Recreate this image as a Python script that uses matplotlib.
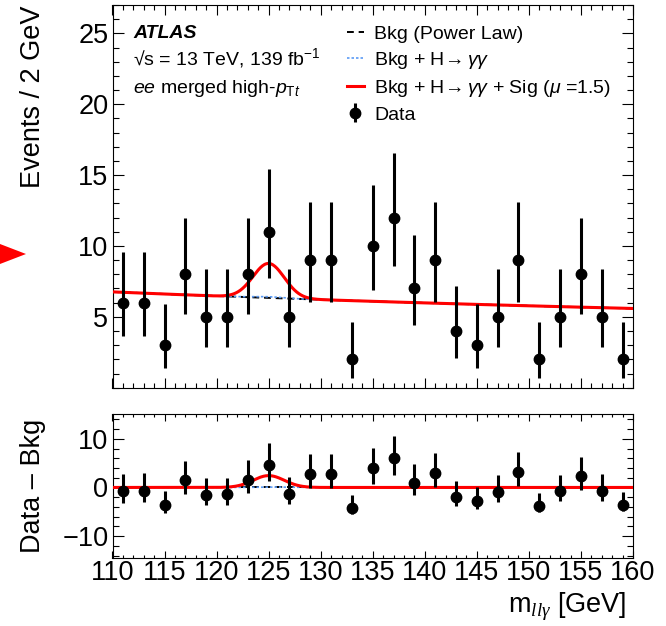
import numpy as np
import matplotlib
matplotlib.use("Agg")
import matplotlib.pyplot as plt
from matplotlib.ticker import MultipleLocator
from matplotlib.patches import Polygon

plt.rcParams['font.family'] = ['Liberation Sans', 'DejaVu Sans']
plt.rcParams['mathtext.fontset'] = 'custom'
plt.rcParams['mathtext.rm'] = 'Liberation Sans'
plt.rcParams['mathtext.it'] = 'Liberation Sans:italic'
plt.rcParams['mathtext.bf'] = 'Liberation Sans:bold'
plt.rcParams['mathtext.cal'] = 'Liberation Serif:italic'

# ---------------- data ----------------
bin_centers = [111, 113, 115, 117, 119, 121, 123, 125, 127, 129, 131, 133, 135,
               137, 139, 141, 143, 145, 147, 149, 151, 153, 155, 157, 159]
counts = [6, 6, 3, 8, 5, 5, 8, 11, 5, 9, 9, 2, 10,
          12, 7, 9, 4, 3, 5, 9, 2, 5, 8, 5, 2]
# poisson errors
err_lo = [2.38, 2.38, 1.63, 2.77, 2.16, 2.16, 2.77, 3.27, 2.16, 2.94, 2.94, 1.29, 3.11,
          3.42, 2.58, 2.94, 1.91, 1.63, 2.16, 2.94, 1.29, 2.16, 2.77, 2.16, 1.29]
err_hi = [3.58, 3.58, 2.92, 3.95, 3.38, 3.38, 3.95, 4.42, 3.38, 4.11, 4.11, 2.64, 4.27,
          4.57, 3.77, 4.11, 3.16, 2.92, 3.38, 4.11, 2.64, 3.38, 3.95, 3.38, 2.64]

# fitted model parameters
bkg_norm = 6.76      # value at 110 GeV
bkg_slope = 0.507    # power law exponent
sig_mass = 125.0
sig_width = 1.5
sig_amp = 2.35       # signal peak height (mu = 1.5)
hgg_amp = 0.08       # H->gamma gamma peak height

x_ticks = [110, 115, 120, 125, 130, 135, 140, 145, 150, 155, 160]
y_ticks_main = [5, 10, 15, 20, 25]
y_ticks_ratio = [-10, 0, 10]

centers = np.array(bin_centers, dtype=float)
data = np.array(counts, dtype=float)

def bkg(m):
    return bkg_norm * (m / 110.0) ** (-bkg_slope)

def peak(m, amp):
    return amp * np.exp(-0.5 * ((m - sig_mass) / sig_width) ** 2)

m = np.linspace(110, 160, 501)
b = bkg(m)
bh = b + peak(m, hgg_amp)
bhs = bh + peak(m, sig_amp)

# ---------------- figure ----------------
fig = plt.figure(figsize=(6.66, 6.26), dpi=100)
W, H = 666.0, 626.0
x0, x1 = 112.5, 633.0
ax = fig.add_axes([x0 / W, 1 - 387.7 / H, (x1 - x0) / W, (387.7 - 5) / H])
axr = fig.add_axes([x0 / W, 1 - 557.5 / H, (x1 - x0) / W, (557.5 - 414) / H])

blue = '#5b9bf5'
hgg = r'$\mathrm{H}\!\rightarrow\gamma\gamma$'
ax.plot(m, b, color='k', ls=(0, (3.5, 2.5)), lw=1.4, zorder=2, label='Bkg (Power Law)')
ax.plot(m, bh, color=blue, ls=(0, (1.5, 1.2)), lw=1.2, zorder=3, label='Bkg + ' + hgg)
ax.plot(m, bhs, color='#ff0000', lw=2.2, zorder=4,
        label='Bkg + ' + hgg + ' + Sig ($\\mu$ =1.5)')
eb = ax.errorbar(centers, data, yerr=[err_lo, err_hi], fmt='o', color='k', ms=7.5,
                 elinewidth=2.2, capsize=0, zorder=5, label='Data')

resid = data - bkg(centers)
axr.plot(m, b - b, color='k', ls=(0, (3.5, 2.5)), lw=1.4, zorder=2)
axr.plot(m, bh - b, color=blue, ls=(0, (1.5, 1.2)), lw=1.2, zorder=3)
axr.plot(m, bhs - b, color='#ff0000', lw=2.2, zorder=4)
axr.errorbar(centers, resid, yerr=[err_lo, err_hi], fmt='o', color='k', ms=7.5,
             elinewidth=2.2, capsize=0, zorder=5)

# ---------------- axes style ----------------
for a in (ax, axr):
    a.set_xlim(110, 160)
    a.set_xticks(x_ticks)
    a.xaxis.set_minor_locator(MultipleLocator(1))
    for s in a.spines.values():
        s.set_linewidth(0.8)
    a.tick_params(which='both', direction='in', top=True, right=True, width=0.8,
                  labelsize=19.5, pad=3)

ax.set_ylim(0, 27)
ax.set_yticks(y_ticks_main)
ax.yaxis.set_minor_locator(MultipleLocator(1))
ax.tick_params(axis='y', which='major', length=8)
ax.tick_params(axis='y', which='minor', length=4)
ax.tick_params(axis='x', which='major', length=7)
ax.tick_params(axis='x', which='minor', length=3.5)
ax.tick_params(axis='x', labelbottom=False)

axr.set_ylim(-14.4, 15.1)
axr.set_yticks(y_ticks_ratio)
axr.yaxis.set_minor_locator(MultipleLocator(2))
axr.tick_params(axis='y', which='major', length=8)
axr.tick_params(axis='y', which='minor', length=4)
axr.tick_params(axis='x', which='major', length=5)
axr.tick_params(axis='x', which='minor', length=2.5)
axr.tick_params(axis='x', pad=2)

ax.set_ylabel('Events / 2 GeV', fontsize=19.5, loc='top')
ax.yaxis.set_label_coords(-0.128, 1.0)
axr.set_ylabel('Data \u2013 Bkg', fontsize=19.5)
axr.yaxis.set_label_coords(-0.128, 0.5)
axr.set_xlabel(r'm$_{\mathcal{ll\gamma}}$ [GeV]', fontsize=19.5, loc='right')
axr.xaxis.set_label_coords(0.988, -0.232)
axr.xaxis.label.set_verticalalignment('top')

# ---------------- labels ----------------
ax.text(0.0394, 0.9146, 'ATLAS', transform=ax.transAxes, fontsize=14,
        fontweight='bold', fontstyle='italic', va='baseline')
ax.text(0.0394, 0.8432, '\u221as = 13 TeV, 139 fb$^{-1}$', transform=ax.transAxes,
        fontsize=14, va='baseline')
ax.text(0.0394, 0.770, r'$ee$ merged high-$p_{\mathrm{T}t}$', transform=ax.transAxes,
        fontsize=14, va='baseline')

ax.legend(loc='upper left', bbox_to_anchor=(0.45, 0.947), frameon=False, fontsize=14,
          handlelength=0.9, handletextpad=0.5, labelspacing=0.36, borderpad=0,
          borderaxespad=0)

# red marker at the left edge
fig.add_artist(Polygon([[0, 1 - 244 / H], [0, 1 - 264 / H], [26 / W, 1 - 254 / H]],
                       closed=True, color='#ff0000', transform=fig.transFigure, lw=0))

fig.savefig('out.png', dpi=100)
